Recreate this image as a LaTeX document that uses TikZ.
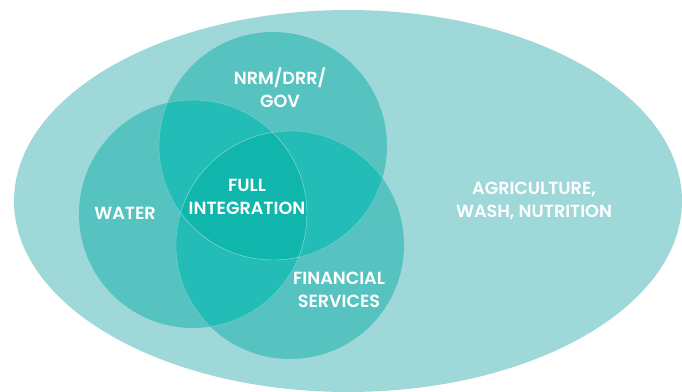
\documentclass[tikz,border=0pt]{standalone}
\usepackage{fontspec}
\setmainfont{Poppins}
\newfontfamily\areafont{Poppins SemiBold}
\usetikzlibrary{positioning}

\definecolor{fieldteal}{RGB}{158,216,216}
\definecolor{oneteal}{RGB}{86,195,192}
\definecolor{twoteal}{RGB}{35,188,182}
\definecolor{threeteal}{RGB}{16,182,172}

\begin{document}
\begin{tikzpicture}[x=1pt, y=-1pt,
    area/.style={text=white, align=center, inner sep=0pt,
                 font=\areafont\fontsize{17.6}{23}\selectfont},
    seam/.style={white, opacity=0.3, line width=0.4pt}]
  \useasboundingbox (0,0) rectangle (682,391);
  \clip (0,0) rectangle (682,391);

  % outer field
  \fill[fieldteal] (348,201) ellipse [x radius=334, y radius=191];

  % the three sectors
  \coordinate (nrm) at (273,146);
  \coordinate (wat) at (193,214);
  \coordinate (fin) at (290,245);
  \foreach \c in {nrm, wat, fin}
    \fill[oneteal] (\c) circle [radius=114];

  % pairwise overlaps
  \foreach \a/\b in {nrm/wat, nrm/fin, wat/fin} {
    \begin{scope}
      \clip (\a) circle [radius=114];
      \fill[twoteal] (\b) circle [radius=114];
    \end{scope}
  }

  % centre, all three
  \begin{scope}
    \clip (nrm) circle [radius=114];
    \clip (wat) circle [radius=114];
    \fill[threeteal] (fin) circle [radius=114];
  \end{scope}

  % faint seams where one circle runs over another
  \foreach \a/\b in {nrm/wat, nrm/fin, wat/nrm, wat/fin, fin/nrm, fin/wat} {
    \begin{scope}
      \clip (\b) circle [radius=114];
      \draw[seam] (\a) circle [radius=114];
    \end{scope}
  }

  \node[area] (nrmlbl) at (280,88) {NRM/DRR/\\GOV};
  \node[area] (fulllbl) at (247,197) {FULL\\INTEGRATION};
  \node[area] (watlbl) at (125,213) {WATER};
  \node[area] (finlbl) at (339,290) {FINANCIAL\\SERVICES};
  \node[area] (agrlbl) at (534,201) {AGRICULTURE,\\WASH, NUTRITION};
\end{tikzpicture}
\end{document}
